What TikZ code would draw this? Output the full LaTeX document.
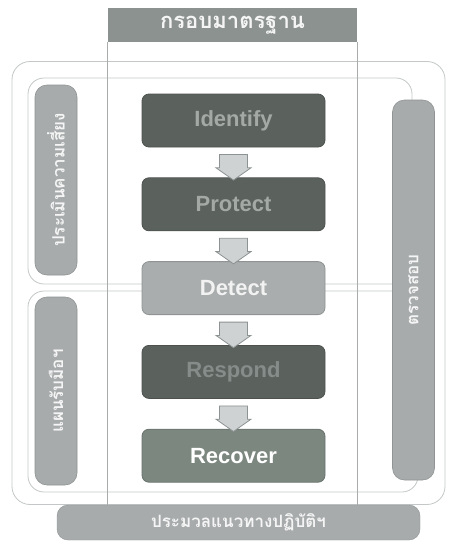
\documentclass[tikz,border=0pt]{standalone}
\usepackage{fontspec}
\setmainfont{Liberation Sans}
\newfontfamily\thaifont[Script=Thai]{Loma}
\usetikzlibrary{positioning,shapes.arrows}
\definecolor{lineGray}{HTML}{C4C7C7}
\definecolor{frameGray}{HTML}{A9ACAC}
\definecolor{headFill}{HTML}{8B9290}
\definecolor{darkFill}{HTML}{5B615D}
\definecolor{darkText}{HTML}{A4A9A6}
\definecolor{dimText}{HTML}{868C89}
\definecolor{lightFill}{HTML}{A9ADAD}
\definecolor{recFill}{HTML}{7C8780}
\definecolor{pillFill}{HTML}{A7ABAC}
\definecolor{pillDraw}{HTML}{909495}
\definecolor{arrFill}{HTML}{CFD2D2}
\definecolor{arrDraw}{HTML}{8D9292}
\tikzset{
  panel/.style     ={draw=lineGray, rounded corners=16pt, line width=0.8pt},
  stage/.style     ={rounded corners=7pt, minimum width=183pt, minimum height=53pt, line width=0.8pt,
                     font=\fontsize{22}{26}\selectfont\bfseries},
  darkstage/.style ={stage, fill=darkFill, draw=darkFill!85!black, text=darkText},
  lightstage/.style={stage, fill=lightFill, draw=lightFill!85!black, text=white!95!black},
  recstage/.style  ={stage, fill=recFill, draw=recFill!85!black, text=white},
  thai/.style      ={text=white!96!black, font=\thaifont\fontsize{17}{20}\selectfont\bfseries},
  pill/.style      ={thai, rotate=90, rounded corners=12pt, fill=pillFill, draw=pillDraw,
                     line width=0.6pt, minimum height=42pt},
  downarr/.style   ={single arrow, shape border rotate=270, fill=arrFill, draw=arrDraw,
                     line width=0.8pt, inner sep=7.5pt, minimum height=22pt, minimum width=35pt,
                     single arrow head extend=2pt, single arrow tip angle=110},
}
\begin{document}
\begin{tikzpicture}[x=1pt, y=-1pt]
  \useasboundingbox (0,0) rectangle (448,546);
  % panels
  \node[panel, fill=white, rounded corners=18pt, minimum width=433pt, minimum height=443pt] (outer) at (228.5,283) {};
  \node[panel, minimum width=384pt, minimum height=206pt] (upper) at (220,181) {};
  \node[panel, minimum width=390pt, minimum height=201pt] (lower) at (223,391.5) {};

  % standard frame
  \node[thai, fill=headFill, inner sep=0pt, minimum width=249pt, minimum height=34pt,
        font=\thaifont\fontsize{22}{25}\selectfont\bfseries] (head) at (232.5,25) {กรอบมาตรฐาน};
  \node[thai, fill=pillFill, draw=pillDraw, rounded corners=11pt, minimum width=363pt,
        minimum height=35pt] (code) at (238.5,522.5) {ประมวลแนวทางปฏิบัติฯ};
  \draw[frameGray, line width=0.7pt] (head.south west) -- (head.south west |- code.north)
                                     (head.south east) -- (head.south east |- code.north);

  % side pills
  \node[pill, minimum width=190pt] (risk)  at (56,180)    {ประเมินความเสี่ยง};
  \node[pill, minimum width=188pt] (plan)  at (56,391)    {แผนรับมือฯ};
  \node[pill, minimum width=380pt] (audit) at (413.5,290) {ตรวจสอบ};

  % stages
  \node[darkstage]                           (idt) at (233.5,120.5) {Identify};
  \node[darkstage, below=30pt of idt]              (prt) {Protect};
  \node[lightstage, below=30pt of prt]             (det) {Detect};
  \node[darkstage, text=dimText, below=30pt of det] (rsp) {Respond};
  \node[recstage, below=30pt of rsp]               (rec) {Recover};

  \path (idt) -- (prt) node[midway, downarr] {};
  \path (prt) -- (det) node[midway, downarr] {};
  \path (det) -- (rsp) node[midway, downarr] {};
  \path (rsp) -- (rec) node[midway, downarr] {};
\end{tikzpicture}
\end{document}
